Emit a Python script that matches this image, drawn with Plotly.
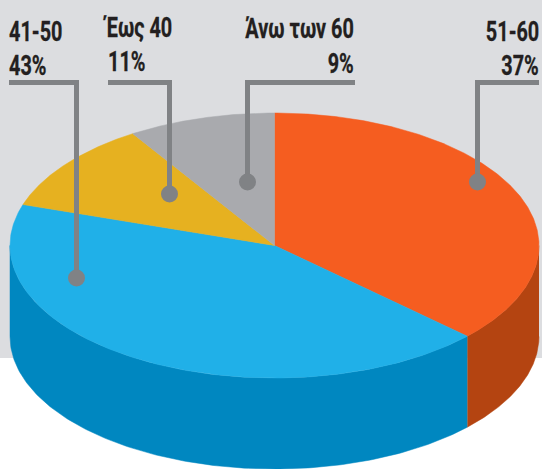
import json
import numpy as np
import plotly.graph_objects as go

# Data, clockwise from the top of the pie
categories = ["51-60", "41-50", "Έως 40", "Άνω των 60"]
values = [37, 43, 11, 9]
percent_labels = ["37%", "43%", "11%", "9%"]

top_colors = ["#f55d20", "#20b0e8", "#e6b120", "#a9aaae"]
side_colors = ["#b44411", "#0087c0", "#0087c0", "#0087c0"]

W, H = 542, 469
CX, CY, RX, RY, DEPTH = 274.5, 245.5, 264.5, 132.5, 91
BG = "#dcdde0"
LEAD = "#808285"
TEXT = "#231f20"
FONT = "Roboto"
FS = 28
XSCALE = 0.71

def ex(a):
    return CX + RX * np.sin(a)

def ey(a):
    return CY - RY * np.cos(a)

fig = go.Figure()
ends = np.cumsum(values) / sum(values) * 2 * np.pi
starts = np.concatenate([[0], ends[:-1]])

# Side walls (only the front half of the rim, pi/2 .. 3pi/2, is visible)
for s, e, c in zip(starts, ends, side_colors):
    lo, hi = max(s, np.pi / 2), min(e, 3 * np.pi / 2)
    if hi <= lo:
        continue
    a = np.linspace(lo, hi, 160)
    xs = np.concatenate([ex(a), ex(a[::-1])])
    ys = np.concatenate([ey(a), ey(a[::-1]) + DEPTH])
    fig.add_trace(go.Scatter(x=xs, y=ys, mode="lines", fill="toself", fillcolor=c,
                             line=dict(width=0.5, color=c), hoverinfo="skip", showlegend=False))

# Top face
for s, e, c in zip(starts, ends, top_colors):
    a = np.linspace(s, e, 240)
    xs = np.concatenate([[CX], ex(a), [CX]])
    ys = np.concatenate([[CY], ey(a), [CY]])
    fig.add_trace(go.Scatter(x=xs, y=ys, mode="lines", fill="toself", fillcolor=c,
                             line=dict(width=0.5, color=c), hoverinfo="skip", showlegend=False))

# Leaders: (horizontal start, horizontal end, vertical x, dot y), in category order
leaders = [(475, 539, 477.5, 182), (9, 79, 76.5, 278), (108, 172, 169.5, 194), (245, 355, 247.5, 182)]
shapes = [dict(type="rect", xref="paper", yref="y", x0=0, x1=1, y0=0, y1=358,
               fillcolor=BG, line_width=0, layer="below")]
LY = 82.5
for x0, x1, vx, dy in leaders:
    shapes.append(dict(type="line", x0=x0, x1=x1, y0=LY, y1=LY, line=dict(color=LEAD, width=5), layer="above"))
    shapes.append(dict(type="line", x0=vx, x1=vx, y0=LY, y1=dy, line=dict(color=LEAD, width=5), layer="above"))
    shapes.append(dict(type="circle", x0=vx - 8.5, x1=vx + 8.5, y0=dy - 8.5, y1=dy + 8.5,
                       fillcolor=LEAD, line_width=0, layer="above"))

# Labels: (x, anchor, y of category, y of percent)
label_pos = [(539, "right", 31, 65), (9, "left", 31, 65), (103, "left", 27, 61), (354, "right", 28, 63)]
annotations = []
anchors = []
for cat, pct, (x, anc, y1, y2) in zip(categories, percent_labels, label_pos):
    px = 108 if cat == "Έως 40" else x
    for txt, xx, yy in ((cat, x, y1), (pct, px, y2)):
        annotations.append(dict(x=xx, y=yy, text=f"<b>{txt}</b>", showarrow=False, xanchor=anc, yanchor="middle",
                                font=dict(family=FONT, size=FS, color=TEXT),
                                borderpad=0, borderwidth=0))
        anchors.append(anc)

fig.update_layout(
    width=W, height=H, margin=dict(l=0, r=0, t=0, b=0), autosize=False,
    paper_bgcolor="white", plot_bgcolor="rgba(0,0,0,0)", showlegend=False,
    xaxis=dict(range=[0, W], visible=False, fixedrange=True),
    yaxis=dict(range=[H, 0], visible=False, fixedrange=True),
    shapes=shapes, annotations=annotations,
)

# Remove page margin; condense the labels horizontally about their anchored edge
post = """
document.body.style.margin = '0';
var anchors = %s, s = %f;
document.querySelectorAll('.annotation-text').forEach(function (el, i) {
  var b = el.getBBox();
  var ax = anchors[i] === 'right' ? b.x + b.width : b.x;
  el.setAttribute('transform', 'translate(' + ax + ',0) scale(' + s + ',1) translate(' + (-ax) + ',0)');
  el.style.stroke = '%s';
  el.style.strokeWidth = '0.3px';
});
""" % (json.dumps(anchors), XSCALE, TEXT)
fig.write_html("out.html", config={"displayModeBar": False, "staticPlot": True}, post_script=post)
